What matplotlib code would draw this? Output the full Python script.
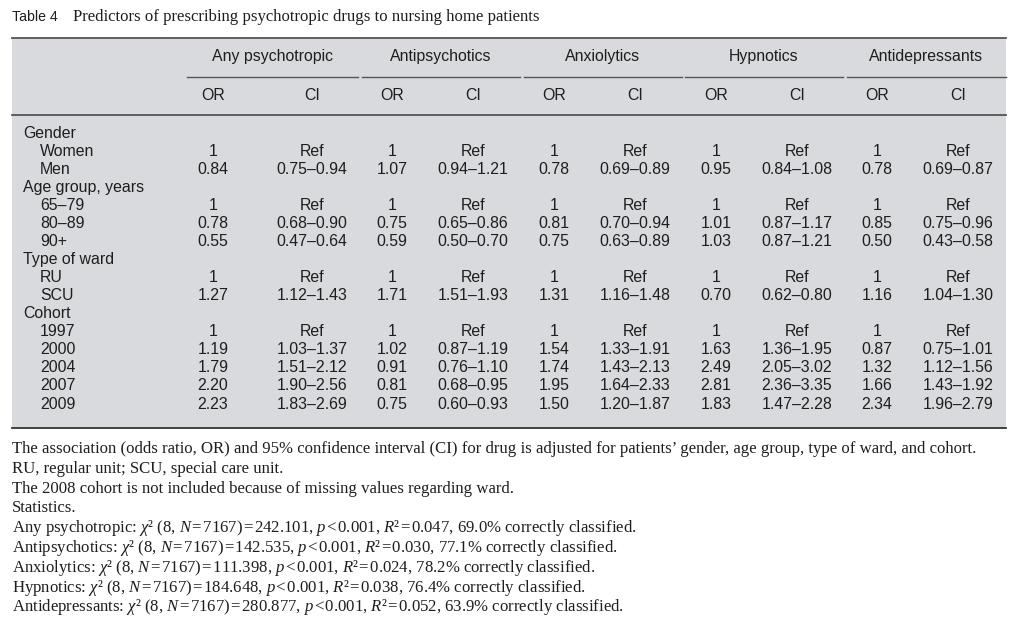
import matplotlib
matplotlib.use("Agg")

import matplotlib.pyplot as plt
from matplotlib.patches import Rectangle

plt.rcParams['mathtext.fontset'] = 'custom'
plt.rcParams['mathtext.rm'] = 'Liberation Serif'
plt.rcParams['mathtext.it'] = 'Liberation Serif:italic'

# Table content
drugs = ['Any psychotropic', 'Antipsychotics', 'Anxiolytics', 'Hypnotics', 'Antidepressants']

# (label, is_group_heading)
rows = [
    ('Gender', True), ('Women', False), ('Men', False),
    ('Age group, years', True), ('65\u201379', False), ('80\u201389', False), ('90+', False),
    ('Type of ward', True), ('RU', False), ('SCU', False),
    ('Cohort', True), ('1997', False), ('2000', False), ('2004', False), ('2007', False), ('2009', False),
]

# OR values per drug for each non-heading row
or_any = ['1', '0.84', '1', '0.78', '0.55', '1', '1.27', '1', '1.19', '1.79', '2.20', '2.23']
or_antipsy = ['1', '1.07', '1', '0.75', '0.59', '1', '1.71', '1', '1.02', '0.91', '0.81', '0.75']
or_anxio = ['1', '0.78', '1', '0.81', '0.75', '1', '1.31', '1', '1.54', '1.74', '1.95', '1.50']
or_hypno = ['1', '0.95', '1', '1.01', '1.03', '1', '0.70', '1', '1.63', '2.49', '2.81', '1.83']
or_antidep = ['1', '0.78', '1', '0.85', '0.50', '1', '1.16', '1', '0.87', '1.32', '1.66', '2.34']

ci_any = ['Ref', '0.75\u20130.94', 'Ref', '0.68\u20130.90', '0.47\u20130.64', 'Ref', '1.12\u20131.43',
          'Ref', '1.03\u20131.37', '1.51\u20132.12', '1.90\u20132.56', '1.83\u20132.69']
ci_antipsy = ['Ref', '0.94\u20131.21', 'Ref', '0.65\u20130.86', '0.50\u20130.70', 'Ref', '1.51\u20131.93',
              'Ref', '0.87\u20131.19', '0.76\u20131.10', '0.68\u20130.95', '0.60\u20130.93']
ci_anxio = ['Ref', '0.69\u20130.89', 'Ref', '0.70\u20130.94', '0.63\u20130.89', 'Ref', '1.16\u20131.48',
            'Ref', '1.33\u20131.91', '1.43\u20132.13', '1.64\u20132.33', '1.20\u20131.87']
ci_hypno = ['Ref', '0.84\u20131.08', 'Ref', '0.87\u20131.17', '0.87\u20131.21', 'Ref', '0.62\u20130.80',
            'Ref', '1.36\u20131.95', '2.05\u20133.02', '2.36\u20133.35', '1.47\u20132.28']
ci_antidep = ['Ref', '0.69\u20130.87', 'Ref', '0.75\u20130.96', '0.43\u20130.58', 'Ref', '1.04\u20131.30',
              'Ref', '0.75\u20131.01', '1.12\u20131.56', '1.43\u20131.92', '1.96\u20132.79']

or_cols = [or_any, or_antipsy, or_anxio, or_hypno, or_antidep]
ci_cols = [ci_any, ci_antipsy, ci_anxio, ci_hypno, ci_antidep]

# model statistics: chi2, R2, % correctly classified
stat_chi2 = ['242.101', '142.535', '111.398', '184.648', '280.877']
stat_r2 = ['0.047', '0.030', '0.024', '0.038', '0.052']
stat_pct = ['69.0', '77.1', '78.2', '76.4', '63.9']

footnotes = [
    "The association (odds ratio, OR) and 95% confidence interval (CI) for drug is adjusted for patients\u2019 gender, age group, type of ward, and cohort.",
    "RU, regular unit; SCU, special care unit.",
    "The 2008 cohort is not included because of missing values regarding ward.",
    "Statistics.",
]
hs = '\u200a'
for d, c, r2, pc in zip(drugs, stat_chi2, stat_r2, stat_pct):
    footnotes.append(f"{d}: $\\chi$\u00b2 (8, $N${hs}={hs}7167){hs}={hs}{c}, $p${hs}<{hs}0.001, "
                     f"$R$\u00b2{hs}={hs}{r2}, {pc}% correctly classified.")

# Layout (pixel coordinates)
sans = 'Liberation Sans'
serif = 'Liberation Serif'
text_col = '#1e1e1e'
line_col = '#555555'
bg_col = '#d9dadd'
fs_tab = 11.4

or_x = [213, 392, 554, 716, 877]
ci_x = [312, 473, 635, 797, 958]
group_spans = [(187, 358), (362, 520), (524, 682), (685, 843), (847, 1006)]

fig = plt.figure(figsize=(10.24, 6.34), dpi=100)
ax = fig.add_axes([0, 0, 1, 1])
ax.set_xlim(0, 1024)
ax.set_ylim(634, 0)
ax.axis('off')

# Title
ax.text(12, 17, 'Table 4', family=sans, fontsize=10.2, color=text_col, va='center')
ax.text(73, 17, 'Predictors of prescribing psychotropic drugs to nursing home patients',
        family=serif, fontsize=12.1, color=text_col, va='center')

# Gray panel and rules
ax.add_patch(Rectangle((12, 38), 994, 390, facecolor=bg_col, edgecolor='none'))
ax.plot([12, 1006], [38, 38], color=line_col, lw=1.3)
ax.plot([12, 1006], [115, 115], color=line_col, lw=1.3)
ax.plot([12, 1006], [428, 428], color='#333333', lw=1.3)
for (x0, x1) in group_spans:
    ax.plot([x0, x1], [77, 77], color=line_col, lw=1.0)

# Column headers
for i, name in enumerate(drugs):
    cx = (group_spans[i][0] + group_spans[i][1]) / 2
    ax.text(cx, 57, name, family=sans, fontsize=fs_tab, color=text_col, ha='center', va='center')
    ax.text(or_x[i], 96, 'OR', family=sans, fontsize=fs_tab, color=text_col, ha='center', va='center')
    ax.text(ci_x[i], 96, 'CI', family=sans, fontsize=fs_tab, color=text_col, ha='center', va='center')

# Body
y0, dy = 133, 18.07
k = 0
for r, (label, heading) in enumerate(rows):
    y = y0 + r * dy
    ax.text(23 if heading else 40, y, label, family=sans, fontsize=fs_tab, color=text_col, va='center')
    if not heading:
        for i in range(len(drugs)):
            ax.text(or_x[i], y, or_cols[i][k], family=sans, fontsize=fs_tab, color=text_col,
                    ha='center', va='center')
            ax.text(ci_x[i], y, ci_cols[i][k], family=sans, fontsize=fs_tab, color=text_col,
                    ha='center', va='center')
        k += 1

# Footnotes
for j, line in enumerate(footnotes):
    ax.text(12, 449 + j * 19.8, line, family=[serif, 'DejaVu Serif'], fontsize=12.1,
            color=text_col, va='center')

fig.savefig('out.png', dpi=100)
